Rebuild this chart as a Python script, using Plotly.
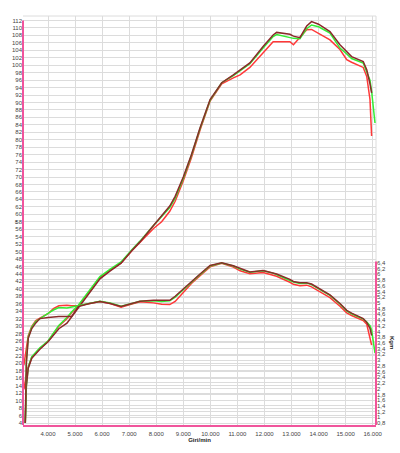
import plotly.graph_objects as go

# ---------------- data ----------------
rpm = [3110, 3160, 3200, 3270, 3400, 3550, 3700, 4000, 4200, 4400, 4700, 4870, 5120, 5500,
       5920, 6300, 6700, 7100, 7400, 7900, 8200, 8500, 8700, 9000, 9300, 9620, 9990, 10420,
       10850, 11100, 11460, 11950, 12320, 12450, 12940, 13070, 13310, 13560, 13740, 14000,
       14420, 14790, 15040, 15220, 15650, 15780, 15900, 15960, 16085]

power_dark = [None, 4, 14, 18.7, 21.4, 22.6, 23.8, 25.8, 27.6, 29.3, 30.8, 32.5, 35.0, 38.8,
              42.7, 44.8, 46.9, 50.3, 52.6, 57.0, 59.5, 62.2, 64.8, 70.0, 76.0, 83.2, 90.8, 95.3,
              97.4, 98.8, 100.6, 105.0, 108.1, 108.8, 108.3, 107.8, 107.4, 110.5, 111.7, 111.0,
              109.0, 105.5, 103.8, 102.3, 101.0, 98.8, 95.0, 92.6, None]
power_green = [None, 4, 14, 19.0, 21.8, 23.0, 24.2, 26.0, 28.2, 30.2, 32.3, 33.8, 35.6, 39.2,
               43.3, 45.3, 47.2, 50.5, 52.8, 57.0, 59.3, 61.8, 64.3, 69.6, 75.8, 83.0, 90.6, 95.3,
               97.2, 98.6, 100.4, 104.6, 107.7, 108.2, 107.4, 107.2, 107.1, 109.8, 110.8, 110.3,
               108.6, 104.6, 103.0, 101.8, 100.6, 98.3, 96.0, 93.0, 84.5]
power_red = [13.0, 15.5, 17.0, 19.0, 21.6, 22.8, 24.0, 25.9, 28.0, 30.0, 32.0, 33.6, 35.4, 39.0,
             43.0, 45.0, 46.9, 50.2, 52.5, 56.2, 58.0, 60.8, 63.5, 69.0, 75.2, 82.6, 90.4, 95.0,
             96.6, 97.4, 99.4, 103.4, 106.3, 106.3, 106.3, 105.5, 107.5, 109.5, 109.6, 108.6,
             106.8, 104.2, 101.5, 100.8, 99.4, 97.0, 90.8, 81.0, None]

torque_dark = [None, 0.80, 2.89, 3.76, 4.10, 4.30, 4.45, 4.49, 4.51, 4.52, 4.52, 4.52, 4.87, 4.97,
               5.05, 4.98, 4.87, 4.98, 5.06, 5.09, 5.09, 5.09, 5.23, 5.49, 5.75, 6.01, 6.31, 6.40,
               6.30, 6.20, 6.08, 6.13, 6.05, 6.01, 5.82, 5.75, 5.70, 5.70, 5.66, 5.52,
               5.28, 4.98, 4.74, 4.64, 4.45, 4.32, 4.11, 3.86, None]
torque_green = [None, 0.80, 3.00, 3.80, 4.15, 4.35, 4.45, 4.63, 4.75, 4.84, 4.82, 4.85, 4.90, 4.98,
                5.06, 5.00, 4.88, 4.98, 5.06, 5.07, 5.05, 5.07, 5.20, 5.46, 5.73, 5.99, 6.29, 6.39,
                6.29, 6.18, 6.07, 6.12, 6.04, 5.99, 5.80, 5.73, 5.68, 5.69, 5.64, 5.50,
                5.26, 4.96, 4.72, 4.62, 4.43, 4.33, 4.20, 4.05, 3.24]
torque_red = [2.83, 3.20, 3.45, 3.85, 4.18, 4.38, 4.47, 4.62, 4.80, 4.90, 4.92, 4.90, 4.90, 4.98,
              5.05, 4.98, 4.85, 4.96, 5.04, 5.00, 4.95, 4.94, 5.05, 5.36, 5.68, 5.95, 6.26, 6.38,
              6.25, 6.12, 6.02, 6.06, 5.98, 5.93, 5.72, 5.65, 5.60, 5.62, 5.56, 5.42,
              5.18, 4.88, 4.65, 4.56, 4.38, 4.25, 3.80, 3.52, None]

x_ticks = list(range(4000, 17000, 1000))
x_ticklabels = [f"{v // 1000}.000" for v in x_ticks]
y_ticks = list(range(4, 114, 2))
y2_ticks = [round(0.8 + 0.2 * i, 1) for i in range(29)]
y2_ticklabels = [("%g" % v).replace(".", ",") for v in y2_ticks]

DARK = "#8a2a2a"
GREEN = "#33ee33"
RED = "#ff3838"
PINK = "#f0559c"
GRID = "#dcdcdc"
FONT = "Liberation Sans, Arial, sans-serif"

fig = go.Figure()
for name, p, t, c in [("red", power_red, torque_red, RED),
                      ("green", power_green, torque_green, GREEN),
                      ("dark", power_dark, torque_dark, DARK)]:
    fig.add_trace(go.Scatter(x=rpm, y=p, mode="lines", line=dict(color=c, width=1.5),
                             showlegend=False, connectgaps=False, yaxis="y"))
    fig.add_trace(go.Scatter(x=rpm, y=t, mode="lines", line=dict(color=c, width=1.5),
                             showlegend=False, connectgaps=False, yaxis="y2"))

tickfont = dict(family=FONT, size=6, color="#444")

fig.update_layout(
    width=400, height=453,
    margin=dict(l=23, r=24, t=16, b=26),
    paper_bgcolor="white", plot_bgcolor="white",
    xaxis=dict(range=[3076, 16122], tickvals=x_ticks, ticktext=x_ticklabels,
               showgrid=True, gridcolor=GRID, gridwidth=1, zeroline=False,
               showline=True, linecolor=PINK, linewidth=2, mirror=False,
               ticks="", tickfont=tickfont, ticklabelstandoff=2,
               title=dict(text="<b>Giri/min</b>", font=dict(family=FONT, size=6, color="#222"),
                          standoff=0)),
    yaxis=dict(range=[3.47, 113.2], tickvals=y_ticks, showgrid=True, gridcolor=GRID,
               gridwidth=1, zeroline=False, showline=False, ticks="", tickfont=tickfont),
    yaxis2=dict(range=[0.73, 15.03], tickvals=y2_ticks, ticktext=y2_ticklabels,
                overlaying="y", side="right", showgrid=True, gridcolor=GRID, gridwidth=1,
                zeroline=False, showline=False, ticks="", tickfont=tickfont),
    shapes=[
        dict(type="line", xref="paper", yref="y", x0=0, x1=0, y0=3.47, y1=112,
             line=dict(color=PINK, width=2)),
        dict(type="line", xref="paper", yref="y2", x0=1, x1=1, y0=0.73, y1=6.45,
             line=dict(color=PINK, width=2)),
        dict(type="line", xref="paper", yref="paper", x0=1, x1=1, y0=0, y1=1,
             line=dict(color=GRID, width=1), layer="below"),
        dict(type="line", xref="paper", yref="paper", x0=0, x1=1, y0=1, y1=1,
             line=dict(color=GRID, width=1), layer="below"),
    ],
    annotations=[
        dict(text="<b>Kgm</b>", xref="paper", yref="y2", x=1.0453, y=3.6, showarrow=False,
             xanchor="center", yanchor="middle",
             textangle=90, font=dict(family=FONT, size=6, color="#222")),
        dict(text="cv", xref="paper", yref="y", x=-0.032, y=58, showarrow=False,
             textangle=-90, font=dict(family=FONT, size=3, color="#222")),
    ],
)

fig.write_html("out.html", config={"displayModeBar": False},
               post_script="document.body.style.margin='0px';document.body.style.padding='0px';")
